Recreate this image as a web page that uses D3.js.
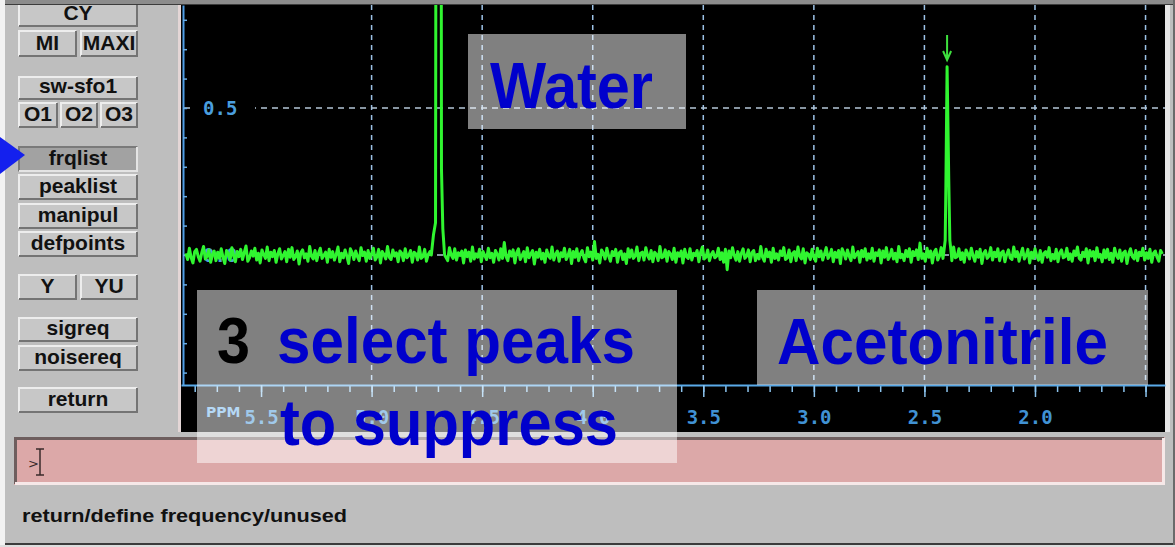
<!DOCTYPE html>
<html>
<head>
<meta charset="utf-8">
<script src="https://cdn.jsdelivr.net/npm/d3@7"></script>
<style>
  body { margin: 0; background: #bebebe; overflow: hidden; }
  svg { display: block; }
</style>
</head>
<body>
<div id="chart"></div>
<script>
// ppm axis
const ppmTicks = [5.5, 5.0, 4.5, 4.0, 3.5, 3.0, 2.5, 2.0, 1.5];
const ppmLabels = ["5.5", "5.0", "4.5", "4.0", "3.5", "3.0", "2.5", "2.0"];
const gridPpm = [5.0, 4.5, 4.0, 3.5, 3.0, 2.5, 2.0, 1.5];
const yLabels = [0.0, 0.5];
const yLabelText = ["0.0", "0.5"];
const gridY = [0.0, 0.5];

// baseline noise, read in units of 1/520 intensity, one value every 0.008 ppm from 5.84 ppm
const baselineStart = 5.84;
const baselineStep = 0.008;
const noiseUnit = 1 / 520;
const baselineNoise = [
  3,-8,12,-5,-14,6,10,-3,-11,4,15,-7,-2,9,-13,1,7,-10,5,-6,
  11,-4,-15,8,2,-9,13,-1,-12,6,-3,10,-8,4,16,-11,-5,7,-2,12,
  -9,3,-14,9,1,-6,14,-10,5,-3,8,-13,2,11,-7,-1,6,-12,10,-4,
  13,-8,-3,7,-16,4,9,-5,2,-11,15,-2,-7,8,-10,3,12,-6,-1,5,
  -13,10,-4,6,-9,1,14,-12,3,-5,9,-2,-15,11,4,-8,7,-3,-10,13,
  -1,5,-11,8,-6,2,12,-9,-3,10,-14,6,1,-7,15,-4,-8,9,-2,4,
  -12,7,3,-10,11,-5,-1,8,-13,5,2,-9,14,-6,-3,10,-11,1,6,-8,
  12,-2,-7,9,-15,3,8,-4,-10,13,0,-6,11,-9,4,-1,7,-14,9,-3,
  5,-11,14,-7,2,-4,10,-12,6,-1,-8,12,-5,3,-13,8,1,-9,11,-6,
  22,-3,-10,7,-2,9,-14,4,11,-8,-1,6,-12,13,-5,2,8,-16,5,-4,
  10,-7,3,-13,9,-2,-6,14,-9,1,7,-11,4,-3,12,-8,-1,10,-15,6,
  -4,11,-10,2,8,-5,-12,13,-3,5,-9,24,-6,1,-14,9,3,-7,12,-2,
  -11,6,-1,10,-13,4,7,-8,2,-15,11,-4,9,-6,-2,14,-10,3,5,-9,
  13,-1,-7,8,-12,5,1,-10,15,-5,-3,9,-11,6,2,-8,12,-13,4,-2,
  7,-14,10,-3,-6,11,-9,3,-1,8,-12,5,14,-7,-4,9,-10,1,6,-5,
  -2,12,-8,4,-13,10,-26,7,-5,13,-1,-9,6,-11,3,11,-6,-2,9,-12,
  4,8,-10,1,-7,15,-4,-11,10,-3,5,-13,12,-6,2,-9,7,-1,13,-8,
  -5,9,-12,3,6,-10,14,-2,-7,11,-14,4,1,-8,10,-4,-11,12,-3,7,
  -9,2,13,-6,-1,10,-12,5,-4,8,-15,11,3,-7,9,-2,-10,14,-5,1,
  6,-13,8,-3,11,-9,2,-6,12,-11,4,-1,9,-14,7,-4,13,-8,-2,10,
  -7,3,-12,15,-5,1,-10,8,-3,11,-13,6,-1,9,-8,21,-6,2,-11,12,
  -4,7,-14,5,10,-9,-2,13,-6,3,-12,8,1,-10,14,-5,-3,11,-8,4,
  -13,9,2,-7,12,-1,-11,6,-4,10,-15,3,8,-6,-2,13,-9,5,-3,11,
  -10,4,7,-12,1,9,-5,-8,14,-3,6,-11,2,12,-7,-1,10,-14,5,-6,
  11,-2,-9,8,-13,3,6,-4,13,-10,1,-7,10,-12,4,9,-5,-3,12,-8,
  2,-11,7,-1,14,-6,-9,5,-3,11,-14,8,-2,6,-10,13,-4,1,-12,9,
  -5,10,-8,3,-13,12,-1,-6,9,-11,4,7,-15,2,11,-3,-7,8,-10,5,
  -1,12,-9,4,-6,10,-13,3,7,-4,-11,8,2
];

// peaks as [ppm, intensity]
const waterPeak = [
  [4.730, 0.00], [4.720, 0.07], [4.711, 0.11], [4.706, 3.0],
  [4.688, 3.0], [4.684, 0.29], [4.678, 0.09], [4.670, 0.00]
];
const acetonitrilePeak = [
  [2.414, 0.00], [2.406, 0.05], [2.403, 0.23], [2.3975, 0.64],
  [2.390, 0.26], [2.385, 0.05], [2.378, 0.00]
];
const pickedPeak = 2.3975;

const width = 1175, height = 547;
const plot = { left: 181, right: 1165, top: 5, bottom: 432, axisY: 385 };

const x = d3.scaleLinear().domain([5.862, 1.412]).range([plot.left, plot.right]);
const y = d3.scaleLinear().domain([-0.4422, 0.8503]).range([plot.axisY, plot.top]);

const svg = d3.select("#chart").append("svg")
  .attr("width", width)
  .attr("height", height);

// window chrome
svg.append("rect").attr("width", width).attr("height", height).attr("fill", "#bebebe");
svg.append("rect").attr("x", 0).attr("y", 0).attr("width", 5).attr("height", height).attr("fill", "#f2f2f2");

function button(x0, y0, w, h, label, pressed) {
  const g = svg.append("g");
  g.append("rect").attr("x", x0).attr("y", y0).attr("width", w).attr("height", h)
    .attr("fill", pressed ? "#a2a2a2" : "#c7c7c7");
  g.append("path").attr("d", `M${x0 + 1},${y0 + h - 1} V${y0 + 1} H${x0 + w - 1}`)
    .attr("fill", "none").attr("stroke", pressed ? "#7a7a7a" : "#ededed").attr("stroke-width", 2);
  g.append("path").attr("d", `M${x0 + w - 1},${y0 + 1} V${y0 + h - 1} H${x0 + 1}`)
    .attr("fill", "none").attr("stroke", pressed ? "#e4e4e4" : "#747474").attr("stroke-width", 2);
  g.append("text").attr("x", x0 + w / 2).attr("y", y0 + h - 7)
    .attr("text-anchor", "middle")
    .attr("font-family", "'Liberation Sans', Arial, sans-serif")
    .attr("font-weight", "bold").attr("font-size", 21).attr("fill", "#111")
    .text(label);
}

button(18, 0, 120, 27, "CY");
button(18, 30, 59, 27, "MI");
button(80, 30, 58, 27, "MAXI");
button(18, 76, 120, 24, "sw-sfo1");
button(18, 102, 40, 26, "O1");
button(60, 102, 38, 26, "O2");
button(100, 102, 38, 26, "O3");
button(18, 146, 120, 26, "frqlist", true);
button(18, 174, 120, 26, "peaklist");
button(18, 203, 120, 26, "manipul");
button(18, 231, 120, 26, "defpoints");
button(18, 274, 59, 26, "Y");
button(80, 274, 58, 26, "YU");
button(18, 317, 120, 25, "sigreq");
button(18, 345, 120, 26, "noisereq");
button(18, 387, 120, 26, "return");

// pointer triangle
svg.append("path").attr("d", "M0,137 L25,155 L0,174 Z").attr("fill", "#1420ee");

// top bar
svg.append("rect").attr("x", 5).attr("y", 0).attr("width", width - 5).attr("height", 4).attr("fill", "#8c8c8c");
svg.append("line").attr("x1", 5).attr("x2", width).attr("y1", 4.5).attr("y2", 4.5)
  .attr("stroke", "#3c3c3c").attr("stroke-width", 1);

// plot frame
svg.append("rect").attr("x", 178).attr("y", 5).attr("width", 3).attr("height", plot.bottom - 5).attr("fill", "#e4d6d6");
svg.append("rect").attr("x", plot.right).attr("y", 5).attr("width", 5).attr("height", plot.bottom - 5).attr("fill", "#e6e6e6");
svg.append("rect").attr("x", plot.left).attr("y", plot.top)
  .attr("width", plot.right - plot.left).attr("height", plot.bottom - plot.top).attr("fill", "#000");

// command line
svg.append("rect").attr("x", 14).attr("y", 437).attr("width", 1151).attr("height", 48).attr("fill", "#dca8a8");
svg.append("path").attr("d", "M15.5,484 V438.5 H1164").attr("fill", "none").attr("stroke", "#6e5e5e").attr("stroke-width", 3);
svg.append("path").attr("d", "M1163.5,438 V483.5 H15").attr("fill", "none").attr("stroke", "#f6e8e8").attr("stroke-width", 3);
svg.append("text").attr("x", 28).attr("y", 468)
  .attr("font-family", "'DejaVu Sans', sans-serif").attr("font-size", 13).attr("fill", "#3a2a2a").text(">");
svg.append("path").attr("d", "M36,449 H44 M40,449 V475 M36,475 H44")
  .attr("fill", "none").attr("stroke", "#3a2a2a").attr("stroke-width", 1.5);

// status line
svg.append("text").attr("x", 22).attr("y", 522)
  .attr("font-family", "'Liberation Sans', Arial, sans-serif")
  .attr("font-weight", "bold").attr("font-size", 19).attr("fill", "#111")
  .attr("textLength", 325).attr("lengthAdjust", "spacingAndGlyphs")
  .text("return/define frequency/unused");
svg.append("rect").attr("x", 5).attr("y", 543).attr("width", width - 5).attr("height", 2).attr("fill", "#3c3c3c");
svg.append("rect").attr("x", 0).attr("y", 545).attr("width", width).attr("height", 2).attr("fill", "#dedede");
svg.append("rect").attr("x", width - 2).attr("y", 0).attr("width", 2).attr("height", 545).attr("fill", "#6a6a6a");

// grid
const grid = svg.append("g");
grid.selectAll("line.v").data(gridPpm).join("line")
  .attr("class", "v")
  .attr("x1", d => x(d)).attr("x2", d => x(d))
  .attr("y1", plot.top).attr("y2", plot.axisY)
  .attr("stroke", "#9cc2e6").attr("stroke-width", 1.5).attr("stroke-dasharray", "5,5");
grid.selectAll("line.h").data(gridY).join("line")
  .attr("class", "h")
  .attr("x1", plot.left + 3).attr("x2", plot.right)
  .attr("y1", d => y(d)).attr("y2", d => y(d))
  .attr("stroke", "#b4c6d8").attr("stroke-width", 1.5).attr("stroke-dasharray", "6,5");

// y labels
const yl = svg.append("g");
yl.selectAll("rect").data(yLabels).join("rect")
  .attr("x", 195).attr("y", d => y(d) - 11).attr("width", 60).attr("height", 22).attr("fill", "#000");
yl.selectAll("text").data(yLabels).join("text")
  .attr("x", 203).attr("y", d => y(d) + 7)
  .attr("font-family", "'DejaVu Sans Mono', monospace").attr("font-weight", "bold")
  .attr("font-size", 19).attr("fill", "#4a9ede")
  .text((d, i) => yLabelText[i]);

// y axis
const yTicks = d3.range(-4, 9).map(i => i / 10);
svg.append("g")
  .attr("transform", `translate(183,0)`)
  .call(d3.axisRight(y).tickValues(yTicks).tickSize(4).tickSizeOuter(0).tickFormat(""))
  .call(g => g.select(".domain").attr("stroke", "#4f9ee6").attr("stroke-width", 2))
  .call(g => g.selectAll(".tick line").attr("stroke", "#6aaee8").attr("stroke-width", 1.5));

// x axis: minor then major ticks
const minorTicks = d3.range(58, 14, -1).map(i => i / 10);
svg.append("g")
  .attr("transform", `translate(0,${plot.axisY})`)
  .call(d3.axisBottom(x).tickValues(minorTicks).tickSize(7).tickFormat(""))
  .call(g => g.select(".domain").remove())
  .call(g => g.selectAll(".tick line").attr("stroke", "#8cc4ee").attr("stroke-width", 1.5));
svg.append("g")
  .attr("transform", `translate(0,${plot.axisY})`)
  .call(d3.axisBottom(x).tickValues(ppmTicks).tickSize(12).tickSizeOuter(0).tickPadding(14)
    .tickFormat((d, i) => ppmLabels[i] || ""))
  .call(g => g.select(".domain").attr("stroke", "#5aaae8").attr("stroke-width", 2))
  .call(g => g.selectAll(".tick line").attr("stroke", "#8cc4ee").attr("stroke-width", 1.5))
  .call(g => g.selectAll(".tick text")
    .attr("fill", "#4092d4").attr("font-family", "'DejaVu Sans Mono', monospace")
    .attr("font-weight", "bold").attr("font-size", 19));
svg.append("text").attr("x", 206).attr("y", 417)
  .attr("font-family", "'DejaVu Sans', sans-serif").attr("font-weight", "bold")
  .attr("font-size", 14).attr("fill", "#6ab0ea").text("PPM");

// spectrum
const peakWindows = [waterPeak, acetonitrilePeak].map(p => [p[p.length - 1][0], p[0][0]]);
const baseline = baselineNoise.map((v, i) => [baselineStart - i * baselineStep, v * noiseUnit])
  .filter(d => !peakWindows.some(w => d[0] >= w[0] && d[0] <= w[1]));
const spectrum = baseline.concat(waterPeak, acetonitrilePeak).sort((a, b) => b[0] - a[0]);

svg.append("clipPath").attr("id", "plotclip")
  .append("rect").attr("x", plot.left).attr("y", plot.top)
  .attr("width", plot.right - plot.left).attr("height", plot.bottom - plot.top);

svg.append("path")
  .datum(spectrum)
  .attr("clip-path", "url(#plotclip)")
  .attr("fill", "none")
  .attr("stroke", "#30f530")
  .attr("stroke-width", 3)
  .attr("stroke-linejoin", "round")
  .attr("d", d3.line().x(d => x(d[0])).y(d => y(d[1])));

// peak pick marker
const px = x(pickedPeak);
svg.append("path")
  .attr("d", `M${px},35 V60 M${px - 4},51 L${px},60 L${px + 4},51`)
  .attr("fill", "none").attr("stroke", "#3ee03e").attr("stroke-width", 2);

// slide annotations
const boxFill = "rgba(255,255,255,0.5)";
svg.append("rect").attr("x", 468).attr("y", 34).attr("width", 218).attr("height", 95).attr("fill", boxFill);
svg.append("rect").attr("x", 197).attr("y", 290).attr("width", 480).attr("height", 173).attr("fill", boxFill);
svg.append("rect").attr("x", 757).attr("y", 290).attr("width", 391).attr("height", 95).attr("fill", boxFill);

function label(tx, ty, txt, len, color) {
  svg.append("text").attr("x", tx).attr("y", ty)
    .attr("font-family", "'Liberation Sans', Arial, sans-serif")
    .attr("font-weight", "bold").attr("font-size", 65).attr("fill", color)
    .attr("textLength", len).attr("lengthAdjust", "spacingAndGlyphs")
    .text(txt);
}
label(490, 108, "Water", 163, "#0000cc");
label(217, 363, "3", 33, "#000");
label(277, 363, "select peaks", 358, "#0000cc");
label(280, 445, "to suppress", 338, "#0000cc");
label(777, 364, "Acetonitrile", 331, "#0000cc");
</script>
</body>
</html>
